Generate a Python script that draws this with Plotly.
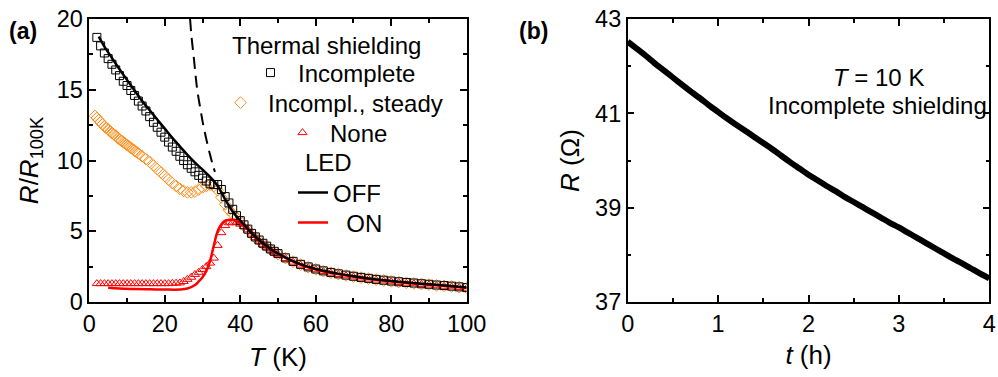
import plotly.graph_objects as go

FONT = "Liberation Sans, Arial, sans-serif"

# ---------------- Panel (a) data ----------------
# Thermal shielding: Incomplete (open squares)
T_incomplete = [2, 3, 4, 5, 6, 7, 8, 9, 10, 11, 12, 13, 14, 15, 16, 17, 18, 19, 20, 21,
                22, 23, 24, 25, 26, 27, 28, 29, 30, 31, 32, 33, 34, 35, 36, 37, 38, 39, 40,
                41, 42, 43, 44, 45, 46, 47, 48, 49, 50, 52, 54, 56, 58, 60, 62, 64, 66, 68,
                70, 72, 74, 76, 78, 80, 82, 84, 86, 88, 90, 92, 94, 96, 98, 100]
R_incomplete = [18.7, 18.1, 17.6, 17.2, 16.8, 16.4, 16.0, 15.6, 15.3, 14.95, 14.6, 14.2, 13.85,
                13.5, 13.1, 12.7, 12.35, 12.0, 11.65, 11.3, 10.95, 10.65, 10.3, 10.0, 9.7, 9.45,
                9.2, 8.95, 8.75, 8.55, 8.35, 8.3, 8.3, 7.95, 7.45, 7.0, 6.55, 6.1, 5.75, 5.45,
                5.15, 4.85, 4.6, 4.38, 4.15, 3.95, 3.75, 3.58, 3.42, 3.12, 2.87, 2.66, 2.48,
                2.33, 2.2, 2.09, 1.99, 1.9, 1.82, 1.74, 1.67, 1.6, 1.54, 1.48, 1.43, 1.38, 1.34,
                1.29, 1.25, 1.2, 1.16, 1.12, 1.07, 1.02]

# Incompl., steady (open diamonds)
T_steady = [1.5, 2, 2.5, 3, 3.5, 4, 4.5, 5, 5.5, 6, 6.5, 7, 7.5, 8, 8.5, 9, 9.5, 10, 10.5, 11,
            11.5, 12, 12.5, 13, 14, 15, 16, 17, 18, 19, 20, 21, 22, 23, 24, 25, 26, 27, 28,
            29, 30, 31, 32, 33, 34, 35, 36, 37, 38, 39, 40, 42, 44, 46, 48, 50, 52, 54, 56,
            58, 60, 62, 64, 66, 68, 70, 72, 74, 76, 78, 80, 82, 84, 86, 88, 90, 92, 94, 96,
            98, 100]
R_steady = [13.15, 13.0, 12.85, 12.7, 12.55, 12.4, 12.3, 12.2, 12.05, 11.95, 11.85, 11.75, 11.6,
            11.5, 11.4, 11.3, 11.2, 11.1, 11.0, 10.9, 10.8, 10.7, 10.6, 10.5, 10.3, 10.1, 9.9,
            9.65, 9.4, 9.15, 8.9, 8.65, 8.4, 8.2, 8.0, 7.85, 7.75, 7.75, 7.8, 7.95, 8.1, 8.2,
            8.3, 8.2, 7.9, 7.4, 6.9, 6.5, 6.2, 5.95, 5.7, 5.1, 4.55, 4.1, 3.72, 3.4, 3.1, 2.85,
            2.64, 2.46, 2.31, 2.18, 2.07, 1.97, 1.88, 1.8, 1.72, 1.65, 1.58, 1.52, 1.46, 1.41,
            1.36, 1.32, 1.27, 1.23, 1.18, 1.14, 1.1, 1.05, 1.0]

# None (open triangles)
T_none = [2, 3, 4, 5, 6, 7, 8, 9, 10, 11, 12, 13, 14, 15, 16, 17, 18, 19, 20, 21, 22, 23, 24,
          25, 26, 27, 28, 29, 30, 31, 32, 33, 34, 35, 36, 37, 38, 39, 40, 41, 42, 43, 44, 45,
          46, 47, 48, 49, 50, 52, 54, 56, 58, 60, 62, 64, 66, 68, 70, 72, 74, 76, 78, 80, 82,
          84, 86, 88, 90, 92, 94, 96, 98, 100]
R_none = [1.3, 1.3, 1.3, 1.3, 1.3, 1.3, 1.3, 1.3, 1.3, 1.3, 1.3, 1.3, 1.3, 1.3, 1.3, 1.3, 1.3,
          1.3, 1.3, 1.3, 1.32, 1.33, 1.35, 1.45, 1.6, 1.75, 1.95, 2.1, 2.3, 2.5, 2.75, 3.1,
          4.0, 4.9, 5.4, 5.6, 5.65, 5.6, 5.5, 5.35, 5.1, 4.8, 4.55, 4.3, 4.08, 3.88, 3.68,
          3.52, 3.37, 3.07, 2.82, 2.61, 2.43, 2.28, 2.15, 2.04, 1.94, 1.85, 1.77, 1.69, 1.62,
          1.55, 1.49, 1.43, 1.38, 1.33, 1.29, 1.24, 1.2, 1.15, 1.11, 1.07, 1.02, 0.97]

# LED OFF (black line)
T_off = [2.5, 4, 6, 8, 10, 12, 14, 16, 18, 20, 22, 24, 26, 28, 30, 32, 33, 34, 35, 36, 37, 38,
         39, 40, 42, 44, 46, 48, 50, 55, 60, 65, 70, 75, 80, 85, 90, 95, 100]
R_off = [18.75, 18.05, 17.25, 16.45, 15.7, 14.95, 14.2, 13.55, 12.9, 12.25, 11.6, 11.0, 10.4,
         9.85, 9.35, 8.85, 8.55, 8.2, 7.75, 7.25, 6.8, 6.4, 6.05, 5.75, 5.15, 4.6, 4.15, 3.75,
         3.42, 2.77, 2.33, 2.04, 1.82, 1.63, 1.48, 1.36, 1.25, 1.14, 1.02]

# LED ON (red line)
T_on = [5, 8, 12, 16, 20, 24, 26, 28, 29, 30, 31, 32, 33, 34, 35, 36, 37, 38, 39, 40, 41, 42,
        44, 46, 48, 50, 55, 60, 65, 70, 75, 80, 85, 90, 95, 100]
R_on = [1.0, 0.95, 0.92, 0.9, 0.88, 0.88, 0.95, 1.2, 1.45, 1.75, 2.2, 2.9, 4.0, 5.0, 5.5, 5.75,
        5.8, 5.8, 5.72, 5.55, 5.35, 5.12, 4.57, 4.12, 3.72, 3.39, 2.74, 2.3, 2.01, 1.79, 1.6,
        1.45, 1.33, 1.22, 1.11, 0.99]

# dashed guide curve
T_dash = [26.7, 27.1, 27.6, 28.1, 28.6, 29.4, 30.2, 31.1, 32.0, 32.7, 33.3]
R_dash = [20.0, 18.7, 17.5, 16.2, 15.0, 13.7, 12.5, 11.4, 10.4, 9.7, 9.2]

# ---------------- Panel (b) data ----------------
t_hours = [0.0, 0.1, 0.2, 0.3, 0.4, 0.5, 0.6, 0.7, 0.8, 0.9, 1.0, 1.1, 1.2, 1.3, 1.4, 1.5, 1.6,
           1.7, 1.8, 1.9, 2.0, 2.1, 2.2, 2.3, 2.4, 2.5, 2.6, 2.7, 2.8, 2.9, 3.0, 3.1, 3.2, 3.3,
           3.4, 3.5, 3.6, 3.7, 3.8, 3.9, 4.0]
R_ohm = [42.52, 42.37, 42.22, 42.06, 41.91, 41.76, 41.61, 41.46, 41.32, 41.17, 41.03, 40.89,
         40.76, 40.63, 40.50, 40.37, 40.24, 40.10, 39.96, 39.83, 39.70, 39.58, 39.46, 39.35,
         39.23, 39.12, 39.01, 38.90, 38.79, 38.68, 38.58, 38.47, 38.36, 38.25, 38.14, 38.03,
         37.92, 37.82, 37.71, 37.60, 37.50]

# ---------------- figure ----------------
W, H = 998, 377
def px(x):
    return x / W
def py(y):
    return 1 - y / H

fig = go.Figure()

fig.add_trace(go.Scatter(x=T_steady, y=R_steady, mode="markers", name="Incompl., steady",
                         marker=dict(symbol="diamond-open", size=9, color="#FF8C1A",
                                     line=dict(width=1)),
                         legend="legend2", xaxis="x", yaxis="y"))
fig.add_trace(go.Scatter(x=T_none, y=R_none, mode="markers", name="None",
                         marker=dict(symbol="triangle-up-open", size=8, color="#FF0000",
                                     line=dict(width=1)),
                         legend="legend3", xaxis="x", yaxis="y"))
fig.add_trace(go.Scatter(x=T_incomplete, y=R_incomplete, mode="markers", name="Incomplete",
                         marker=dict(symbol="square-open", size=8, color="#000000",
                                     line=dict(width=1)),
                         legend="legend", xaxis="x", yaxis="y"))
fig.add_trace(go.Scatter(x=T_on, y=R_on, mode="lines", name="\u00a0\u00a0ON",
                         line=dict(color="#FF0000", width=2.5, shape="spline"),
                         legend="legend5", xaxis="x", yaxis="y"))
fig.add_trace(go.Scatter(x=T_off, y=R_off, mode="lines", name="OFF",
                         line=dict(color="#000000", width=2.5, shape="spline"),
                         legend="legend4", xaxis="x", yaxis="y"))
fig.add_trace(go.Scatter(x=T_dash, y=R_dash, mode="lines", showlegend=False,
                         line=dict(color="#000000", width=2, dash="12px,7px", shape="spline"),
                         xaxis="x", yaxis="y"))
fig.add_trace(go.Scatter(x=t_hours, y=R_ohm, mode="lines", showlegend=False,
                         line=dict(color="#000000", width=6, shape="spline"),
                         xaxis="x2", yaxis="y2"))

tickfont = dict(family=FONT, size=23.5, color="black")
titlefont = dict(family=FONT, size=26, color="black")

def axis(domain, rng, dtick, mdtick, title, standoff, tick0=None):
    d = dict(domain=domain, range=rng, dtick=dtick, ticks="inside", ticklen=7, tickwidth=1.5,
             tickcolor="black", showline=True, linewidth=1.5, linecolor="black", mirror="ticks",
             showgrid=False, zeroline=False, tickfont=tickfont, automargin=False,
             minor=dict(dtick=mdtick, ticks="inside", ticklen=4, tickwidth=1.5,
                        tickcolor="black", showgrid=False),
             title=dict(text=title, font=titlefont, standoff=standoff))
    if tick0 is not None:
        d["tick0"] = tick0
    return d

ydom = [py(302), py(19)]
fig.update_layout(
    width=W, height=H,
    margin=dict(l=0, r=0, t=0, b=0, autoexpand=False),
    paper_bgcolor="white", plot_bgcolor="white",
    font=dict(family=FONT, size=23, color="black"),
    xaxis=axis([px(89.3), px(466.7)], [0, 100], 20, 10, "<i>T</i> (K)", 12),
    yaxis=axis(ydom, [0, 20], 5, 2.5, "<i>R</i>/<i>R</i><sub>100K</sub>", 11),
    xaxis2=axis([px(627.7), px(989.3)], [0, 4], 1, 0.5, "<i>t</i> (h)", 10),
    yaxis2=axis(ydom, [37, 43], 2, 1, "<i>R</i> (\u03a9)", 8, tick0=37),
)
fig.layout.xaxis2.anchor = "y2"
fig.layout.yaxis2.anchor = "x2"

leg_common = dict(bgcolor="rgba(0,0,0,0)", borderwidth=0, xanchor="left", yanchor="middle",
                  font=dict(family=FONT, size=24, color="black"))
fig.update_layout(
    legend=dict(x=px(263 - 20), y=py(73), itemwidth=45, **leg_common),
    legend2=dict(x=px(233 - 20), y=py(103), itemwidth=45, **leg_common),
    legend3=dict(x=px(295 - 20), y=py(133), itemwidth=45, **leg_common),
    legend4=dict(x=px(298 - 5), y=py(193), itemwidth=30, **leg_common),
    legend5=dict(x=px(298 - 5), y=py(223), itemwidth=30, **leg_common),
)

ann_font = dict(family=FONT, size=24, color="black")
def note(text, x, y, font=ann_font):
    fig.add_annotation(text=text, x=px(x), y=py(y), xref="paper", yref="paper",
                       xanchor="center", yanchor="middle", showarrow=False, font=font)

bold_font = dict(family=FONT, size=23, color="black")
note("<b>(a)</b>", 23, 31, bold_font)
note("<b>(b)</b>", 533, 31, bold_font)
note("Thermal shielding", 326, 45)
note("LED", 328, 163)
note("<i>T</i> = 10 K", 878, 77)
note("Incomplete shielding", 877, 105)

fig.write_html("out.html")
